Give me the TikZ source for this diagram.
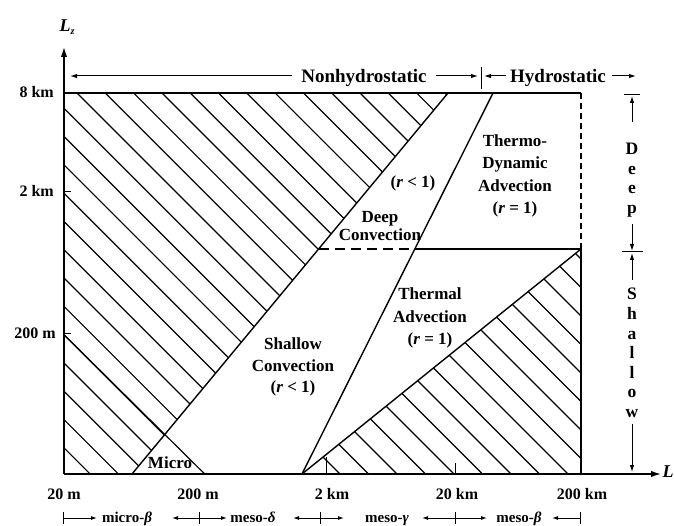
\documentclass[tikz,border=0pt]{standalone}
\usepackage{fontspec}
\setmainfont{Liberation Serif}
\usetikzlibrary{arrows.meta}
\begin{document}
\begin{tikzpicture}[x=1pt,y=-1pt,
  lbl/.style={font=\bfseries\fontsize{17}{22.5}\selectfont, align=center, inner sep=0pt},
  toplbl/.style={font=\bfseries\fontsize{19}{22}\selectfont, inner sep=0pt, anchor=base},
  ticklbl/.style={font=\bfseries\fontsize{16}{18}\selectfont, inner sep=0pt},
  scalelbl/.style={font=\bfseries\fontsize{15}{18}\selectfont, inner sep=0pt, anchor=base},
  vlet/.style={font=\bfseries\fontsize{17.5}{18}\selectfont, inner sep=0pt, anchor=base},
  bnd/.style={line width=1.4pt},
  hatchln/.style={line width=1.2pt},
  axisln/.style={line width=1.5pt, -{Latex[length=10pt,width=6.5pt]}},
  arr/.style={line width=1pt, -{Latex[length=7pt,width=4.5pt]}},
  sarr/.style={line width=1pt, -{Latex[length=6pt,width=4pt]}},
  barln/.style={line width=1pt},
]
\useasboundingbox (0,0) rectangle (674,526);

% key points
\coordinate (O) at (64,474);
\coordinate (Ytop) at (64,47);
\coordinate (Xend) at (661,474);
\coordinate (TL) at (64,93);
\coordinate (TR) at (581,93);
\coordinate (ML) at (318.6,249);
\coordinate (E) at (414.8,249);
\coordinate (MR) at (581,249);
\coordinate (BR) at (581,474);
\coordinate (A) at (132,474);
\coordinate (B) at (448,93);
\coordinate (C) at (302,474);
\coordinate (D) at (493,93);
\coordinate (Mtop) at (64,334.7);
\coordinate (Mbot) at (204.7,474);

% left hatching
\begin{scope}
  \clip (TL) -- (B) -- (A) -- (O) -- cycle;
  \foreach \k in {-15,...,15} {
    \pgfmathsetmacro\cc{16+28.3*\k}
    \draw[hatchln] (0,\cc) -- (700,700+\cc);
  }
\end{scope}
% micro line
\draw[hatchln] (Mtop) -- (Mbot);

% right hatching
\begin{scope}
  \clip (C) -- (MR) -- (BR) -- cycle;
  \foreach \m in {0,...,18} {
    \pgfmathsetmacro\cc{134-28.5*\m}
    \draw[hatchln] (0,\cc) -- (700,700+\cc);
  }
\end{scope}

% boundaries
\draw[bnd] (TL) -- (TR);
\draw[bnd] (A) -- (B);
\draw[bnd] (C) -- (D);
\draw[bnd] (C) -- (MR);
\draw[bnd] (E) -- (MR);
\draw[bnd, dash pattern=on 10pt off 6pt] (ML) -- (E);
\draw[bnd, dash pattern=on 6pt off 4pt] (TR) -- (MR);
\draw[bnd] (MR) -- (BR);

% axes
\draw[axisln] (O) -- (Ytop);
\draw[axisln] (O) -- (Xend);
\draw[barln] (326,474) -- (326,457);
\draw[barln] (455,474) -- (455,463);
\draw[barln] (64,192) -- (71,192);
\draw[barln] (64,333) -- (71,333);

% axis labels
\node[font=\bfseries\itshape\fontsize{18}{18}\selectfont, inner sep=0pt] (Lz) at (67,27) {L\raisebox{-3pt}{\fontsize{10}{10}\selectfont z}};
\node[font=\bfseries\itshape\fontsize{18}{18}\selectfont, inner sep=0pt] (Lx) at (668,472) {L};

\node[ticklbl, anchor=base east] (y8) at (54,98) {8 km};
\node[ticklbl, anchor=base east] (y2) at (54,197) {2 km};
\node[ticklbl, anchor=base east] (y200) at (56,338) {200 m};

\node[ticklbl, anchor=base] (x20) at (64,499) {20 m};
\node[ticklbl, anchor=base] (x200) at (198,499) {200 m};
\node[ticklbl, anchor=base] (x2k) at (332,499) {2 km};
\node[ticklbl, anchor=base] (x20k) at (457,499) {20 km};
\node[ticklbl, anchor=base] (x200k) at (582,499) {200 km};

% top labels
\node[toplbl] (nh) at (364,83) {Nonhydrostatic};
\node[toplbl] (hy) at (558,83) {Hydrostatic};
\coordinate (nhL) at (70,76);
\coordinate (nhR) at (436,76);
\coordinate (sep) at (481,76);
\coordinate (hyR) at (612,76);
\draw[arr] (292,76) -- (nhL);
\draw[arr] (nhR) -- (478,76);
\draw[barln] (481,67) -- (481,89);
\draw[arr] (506,76) -- (484,76);
\draw[arr] (hyR) -- (636,76);

% region labels
\node[lbl] (rlt1) at (413,183) {(\textit{r} < 1)};
\node[lbl, font=\bfseries\fontsize{17}{18.5}\selectfont] (dc) at (380,226) {Deep\\Convection};
\node[lbl] (tda) at (515,176) {Thermo-\\Dynamic\\Advection\\(\textit{r} = 1)};
\node[lbl] (ta) at (430,318) {Thermal\\Advection\\(\textit{r} = 1)};
\node[lbl, font=\bfseries\fontsize{17}{21.5}\selectfont] (sc) at (293,367) {Shallow\\Convection\\(\textit{r} < 1)};
\node[lbl] (mic) at (170,463) {Micro};

% deep / shallow marker
\foreach \ch/\yy [count=\i] in {D/155, e/174.5, e/194, p/213.5} {
  \node[vlet] (dp\i) at (632,\yy) {\ch};
}
\foreach \ch/\yy [count=\i] in {S/300, h/319.5, a/339, l/358.5, l/378, o/397.5, w/417} {
  \node[vlet] (sh\i) at (632,\yy) {\ch};
}
\draw[barln] (624,95) -- (640,95);
\draw[arr] (632,122) -- (632,96);
\draw[arr] (632,224) -- (632,251);
\draw[barln] (622,252) -- (643,252);
\draw[arr] (632,280) -- (632,253);
\draw[arr] (632,424) -- (632,472);

% bottom scale row
\node[scalelbl] (s1) at (127,522.5) {micro-\textit{β}};
\node[scalelbl] (s2) at (253,522.5) {meso-\textit{δ}};
\node[scalelbl] (s3) at (387,522.5) {meso-\textit{γ}};
\node[scalelbl] (s4) at (519,522.5) {meso-\textit{β}};
\foreach \bx in {63,199,320,455,580} {
  \draw[barln] (\bx,512) -- (\bx,524);
}
\draw[sarr] (63,518) -- (97,518);
\draw[sarr] (199,518) -- (172,518);
\draw[sarr] (199,518) -- (227,518);
\draw[sarr] (320,518) -- (293,518);
\draw[sarr] (320,518) -- (344,518);
\draw[sarr] (455,518) -- (422,518);
\draw[sarr] (455,518) -- (487,518);
\draw[sarr] (580,518) -- (552,518);
\end{tikzpicture}
\end{document}
